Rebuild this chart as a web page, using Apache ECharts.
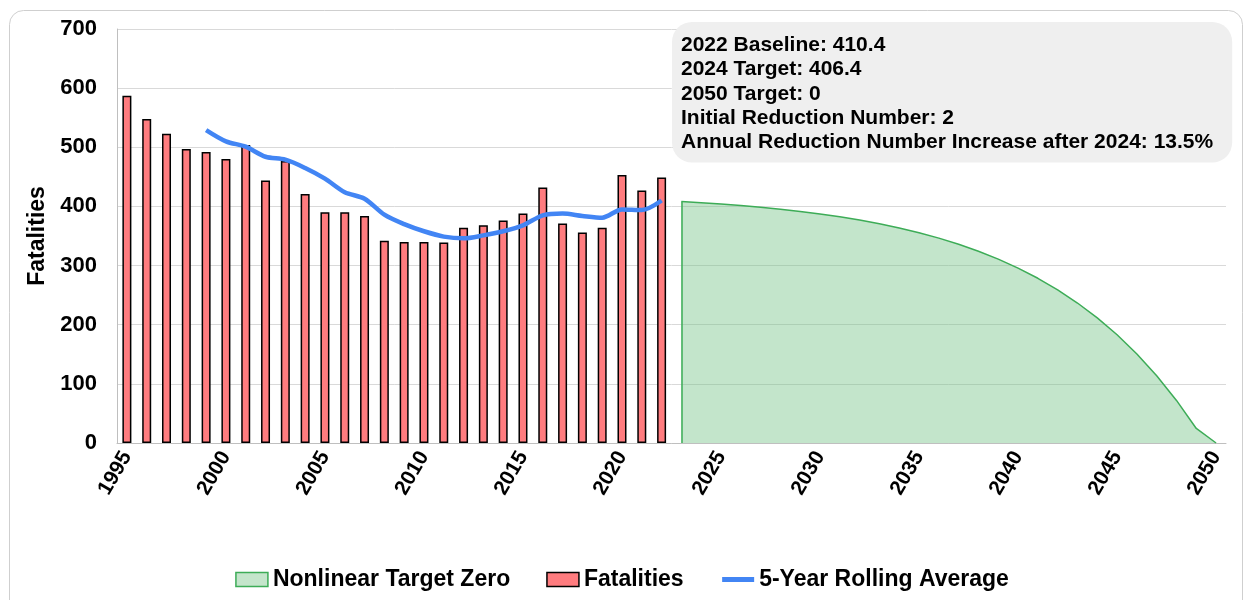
<!DOCTYPE html>
<html>
<head>
<meta charset="utf-8">
<script src="https://cdn.jsdelivr.net/npm/echarts/dist/echarts.min.js"></script>
<style>
  html, body { margin: 0; padding: 0; background: #fff; }
  #chart { width: 1244px; height: 600px; }
</style>
</head>
<body>
<div id="chart"></div>
<script>
  // categories
  const firstYear = 1995
  const lastYear = 2050
  // yearly fatalities 1995-2022
  const fatalities = [587, 548, 523, 497, 492, 480, 504, 444, 477, 421,
    390, 390, 384, 342, 340, 340, 339, 364, 368, 376,
    388, 432, 371, 356, 364, 453, 427, 449]
  // 5-year rolling average 1999-2022
  const rollingStart = 1999
  const rollingAvg = [529, 510, 501, 484, 479, 465, 447, 424, 413, 386,
    370, 358, 349, 346, 351, 358, 368, 385, 388, 384, 381, 395, 394, 410]
  // nonlinear target 2023-2050
  const targetStart = 2023
  const targetZero = [408.4, 406.4, 404.1, 401.6, 398.6, 395.3, 391.5, 387.3,
    382.4, 376.9, 370.7, 363.6, 355.5, 346.4, 336.0, 324.2, 310.9, 295.7,
    278.5, 258.9, 236.7, 211.6, 183.0, 150.6, 113.8, 72.0, 24.6, 0]
  const notes = [
    '2022 Baseline: 410.4',
    '2024 Target: 406.4',
    '2050 Target: 0',
    'Initial Reduction Number: 2',
    'Annual Reduction Number Increase after 2024: 13.5%',
  ]

  const years = []
  for (let y = firstYear; y <= lastYear; y++) years.push(String(y))

  // pad a series so it lines up with the year categories
  function alignTo(start, values) {
    return years.map((y) => {
      const i = Number(y) - start
      return i >= 0 && i < values.length ? values[i] : '-'
    })
  }

  const font = 'Arial, "Liberation Sans", sans-serif'
  const labelStyle = { fontFamily: font, fontWeight: 'bold', fontSize: 21, color: '#000' }

  const chart = echarts.init(document.getElementById('chart'))
  chart.setOption({
    animation: false,
    backgroundColor: '#fff',
    title: {
      text: notes.join('\n'),
      left: 672,
      top: 22,
      padding: [11, 19, 8, 9],
      backgroundColor: '#efefef',
      borderRadius: 20,
      textStyle: { fontFamily: font, fontWeight: 'bold', fontSize: 21, lineHeight: 24.3, color: '#000' },
    },
    graphic: [{
      type: 'rect',
      left: 7,
      top: 8,
      shape: { width: 1233, height: 620, r: 14 },
      style: { fill: 'none', stroke: '#cfcfcf', lineWidth: 1 },
      z: -1,
    }],
    legend: {
      left: 'center',
      top: 563,
      itemWidth: 32,
      itemHeight: 14,
      itemGap: 36,
      textStyle: { fontFamily: font, fontWeight: 'bold', fontSize: 23, color: '#000' },
      data: [
        { name: 'Nonlinear Target Zero', icon: 'rect', itemStyle: { color: '#c4e5cb', borderColor: '#3dac57', borderWidth: 1.5 } },
        { name: 'Fatalities', icon: 'rect', itemStyle: { color: '#ff7c7f', borderColor: '#000', borderWidth: 1.5 } },
        { name: '5-Year Rolling Average', itemStyle: { opacity: 0 }, lineStyle: { width: 5 } },
      ],
    },
    grid: { left: 117, right: 18, top: 29, bottom: 157 },
    xAxis: {
      type: 'category',
      data: years,
      boundaryGap: true,
      axisLine: { lineStyle: { color: '#bfbfbf' } },
      axisTick: { interval: 0, length: 5, lineStyle: { color: '#bfbfbf' } },
      axisLabel: Object.assign({ interval: 4, rotate: 60, margin: 10 }, labelStyle),
    },
    yAxis: {
      type: 'value',
      min: 0,
      max: 700,
      interval: 100,
      name: 'Fatalities',
      nameLocation: 'middle',
      nameGap: 59,
      nameTextStyle: Object.assign({}, labelStyle, { fontSize: 23 }),
      axisLine: { show: true, lineStyle: { color: '#bfbfbf' } },
      axisTick: { show: false },
      axisLabel: Object.assign({ margin: 20 }, labelStyle, { fontSize: 22 }),
      splitLine: { lineStyle: { color: '#d9d9d9' } },
    },
    series: [
      {
        name: 'Nonlinear Target Zero',
        type: 'line',
        data: alignTo(targetStart, targetZero),
        symbol: 'none',
        lineStyle: { color: '#3dac57', width: 1.5 },
        itemStyle: { color: '#3dac57' },
        areaStyle: { color: 'rgba(112, 192, 130, 0.42)', opacity: 1 },
        markLine: {
          silent: true,
          symbol: 'none',
          label: { show: false },
          lineStyle: { color: '#3dac57', width: 1.5, type: 'solid' },
          data: [[
            { coord: [String(targetStart), 0] },
            { coord: [String(targetStart), targetZero[0]] },
          ]],
        },
      },
      {
        name: 'Fatalities',
        type: 'bar',
        data: alignTo(firstYear, fatalities),
        barWidth: 9,
        itemStyle: { color: '#ff7c7f', borderColor: '#000', borderWidth: 1.5 },
      },
      {
        name: '5-Year Rolling Average',
        type: 'line',
        data: alignTo(rollingStart, rollingAvg),
        symbol: 'none',
        smooth: 0.3,
        lineStyle: { color: '#4285f4', width: 4.5 },
        itemStyle: { color: '#4285f4' },
      },
    ],
  })
</script>
</body>
</html>
